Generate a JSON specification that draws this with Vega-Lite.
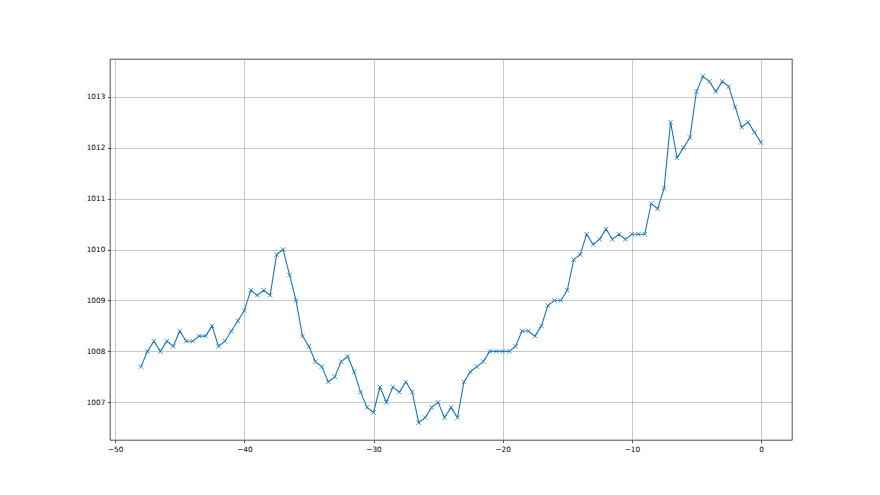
{
  "$schema": "https://vega.github.io/schema/vega-lite/v6.json",
  "width": 682,
  "height": 381,
  "autosize": {"type": "none"},
  "padding": {"left": 110, "top": 59, "right": 88, "bottom": 55},
  "background": "white",
  "config": {
    "view": {"stroke": "#000000", "strokeWidth": 0.7},
    "font": "DejaVu Sans",
    "axis": {
      "labelFont": "DejaVu Sans",
      "labelFontSize": 7.3,
      "labelColor": "#000000",
      "domain": false,
      "tickColor": "#000000",
      "tickWidth": 0.7,
      "tickSize": 2.6,
      "labelPadding": 2.6,
      "grid": true,
      "gridColor": "#b0b0b0",
      "gridWidth": 0.7,
      "title": null
    }
  },
  "data": {
    "values": [
      {"t": -48, "p": 1007.7}, {"t": -47.5, "p": 1008.0}, {"t": -47, "p": 1008.2}, {"t": -46.5, "p": 1008.0},
      {"t": -46, "p": 1008.2}, {"t": -45.5, "p": 1008.1}, {"t": -45, "p": 1008.4}, {"t": -44.5, "p": 1008.2},
      {"t": -44, "p": 1008.2}, {"t": -43.5, "p": 1008.3}, {"t": -43, "p": 1008.3}, {"t": -42.5, "p": 1008.5},
      {"t": -42, "p": 1008.1}, {"t": -41.5, "p": 1008.2}, {"t": -41, "p": 1008.4}, {"t": -40.5, "p": 1008.6},
      {"t": -40, "p": 1008.8}, {"t": -39.5, "p": 1009.2}, {"t": -39, "p": 1009.1}, {"t": -38.5, "p": 1009.2},
      {"t": -38, "p": 1009.1}, {"t": -37.5, "p": 1009.9}, {"t": -37, "p": 1010.0}, {"t": -36.5, "p": 1009.5},
      {"t": -36, "p": 1009.0}, {"t": -35.5, "p": 1008.3}, {"t": -35, "p": 1008.1}, {"t": -34.5, "p": 1007.8},
      {"t": -34, "p": 1007.7}, {"t": -33.5, "p": 1007.4}, {"t": -33, "p": 1007.5}, {"t": -32.5, "p": 1007.8},
      {"t": -32, "p": 1007.9}, {"t": -31.5, "p": 1007.6}, {"t": -31, "p": 1007.2}, {"t": -30.5, "p": 1006.9},
      {"t": -30, "p": 1006.8}, {"t": -29.5, "p": 1007.3}, {"t": -29, "p": 1007.0}, {"t": -28.5, "p": 1007.3},
      {"t": -28, "p": 1007.2}, {"t": -27.5, "p": 1007.4}, {"t": -27, "p": 1007.2}, {"t": -26.5, "p": 1006.6},
      {"t": -26, "p": 1006.7}, {"t": -25.5, "p": 1006.9}, {"t": -25, "p": 1007.0}, {"t": -24.5, "p": 1006.7},
      {"t": -24, "p": 1006.9}, {"t": -23.5, "p": 1006.7}, {"t": -23, "p": 1007.4}, {"t": -22.5, "p": 1007.6},
      {"t": -22, "p": 1007.7}, {"t": -21.5, "p": 1007.8}, {"t": -21, "p": 1008.0}, {"t": -20.5, "p": 1008.0},
      {"t": -20, "p": 1008.0}, {"t": -19.5, "p": 1008.0}, {"t": -19, "p": 1008.1}, {"t": -18.5, "p": 1008.4},
      {"t": -18, "p": 1008.4}, {"t": -17.5, "p": 1008.3}, {"t": -17, "p": 1008.5}, {"t": -16.5, "p": 1008.9},
      {"t": -16, "p": 1009.0}, {"t": -15.5, "p": 1009.0}, {"t": -15, "p": 1009.2}, {"t": -14.5, "p": 1009.8},
      {"t": -14, "p": 1009.9}, {"t": -13.5, "p": 1010.3}, {"t": -13, "p": 1010.1}, {"t": -12.5, "p": 1010.2},
      {"t": -12, "p": 1010.4}, {"t": -11.5, "p": 1010.2}, {"t": -11, "p": 1010.3}, {"t": -10.5, "p": 1010.2},
      {"t": -10, "p": 1010.3}, {"t": -9.5, "p": 1010.3}, {"t": -9, "p": 1010.3}, {"t": -8.5, "p": 1010.9},
      {"t": -8, "p": 1010.8}, {"t": -7.5, "p": 1011.2}, {"t": -7, "p": 1012.5}, {"t": -6.5, "p": 1011.8},
      {"t": -6, "p": 1012.0}, {"t": -5.5, "p": 1012.2}, {"t": -5, "p": 1013.1}, {"t": -4.5, "p": 1013.4},
      {"t": -4, "p": 1013.3}, {"t": -3.5, "p": 1013.1}, {"t": -3, "p": 1013.3}, {"t": -2.5, "p": 1013.2},
      {"t": -2, "p": 1012.8}, {"t": -1.5, "p": 1012.4}, {"t": -1, "p": 1012.5}, {"t": -0.5, "p": 1012.3},
      {"t": 0, "p": 1012.1}
    ]
  },
  "encoding": {
    "x": {
      "field": "t", "type": "quantitative",
      "scale": {"domain": [-50.4, 2.4], "nice": false, "zero": false},
      "axis": {"values": [-50, -40, -30, -20, -10, 0], "format": "d"}
    },
    "y": {
      "field": "p", "type": "quantitative",
      "scale": {"domain": [1006.26, 1013.74], "nice": false, "zero": false},
      "axis": {"values": [1007, 1008, 1009, 1010, 1011, 1012, 1013], "format": "d"}
    }
  },
  "layer": [
    {"mark": {"type": "line", "color": "#1f77b4", "strokeWidth": 1.1, "clip": true}},
    {"mark": {"type": "point", "shape": "M-1,-1L1,1M1,-1L-1,1", "filled": false, "stroke": "#1f77b4", "strokeWidth": 0.8, "size": 20, "opacity": 1, "clip": true}}
  ]
}
